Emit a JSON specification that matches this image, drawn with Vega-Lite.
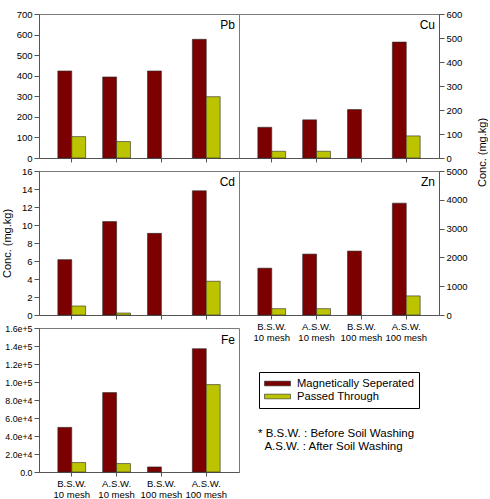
{
  "$schema": "https://vega.github.io/schema/vega-lite/v6.json",
  "padding": {"left": 0, "top": 8, "right": 0, "bottom": 0},
  "background": "white",
  "data": {"values": [
    {"metal": "Pb", "group": "B.S.W.|10 mesh", "series": "Magnetically Seperated", "value": 423},
    {"metal": "Pb", "group": "B.S.W.|10 mesh", "series": "Passed Through", "value": 104},
    {"metal": "Pb", "group": "A.S.W.|10 mesh", "series": "Magnetically Seperated", "value": 394},
    {"metal": "Pb", "group": "A.S.W.|10 mesh", "series": "Passed Through", "value": 80},
    {"metal": "Pb", "group": "B.S.W.|100 mesh", "series": "Magnetically Seperated", "value": 423},
    {"metal": "Pb", "group": "A.S.W.|100 mesh", "series": "Magnetically Seperated", "value": 577},
    {"metal": "Pb", "group": "A.S.W.|100 mesh", "series": "Passed Through", "value": 298},
    {"metal": "Cu", "group": "B.S.W.|10 mesh", "series": "Magnetically Seperated", "value": 128},
    {"metal": "Cu", "group": "B.S.W.|10 mesh", "series": "Passed Through", "value": 28},
    {"metal": "Cu", "group": "A.S.W.|10 mesh", "series": "Magnetically Seperated", "value": 159},
    {"metal": "Cu", "group": "A.S.W.|10 mesh", "series": "Passed Through", "value": 28},
    {"metal": "Cu", "group": "B.S.W.|100 mesh", "series": "Magnetically Seperated", "value": 202},
    {"metal": "Cu", "group": "A.S.W.|100 mesh", "series": "Magnetically Seperated", "value": 483},
    {"metal": "Cu", "group": "A.S.W.|100 mesh", "series": "Passed Through", "value": 92},
    {"metal": "Cd", "group": "B.S.W.|10 mesh", "series": "Magnetically Seperated", "value": 6.15},
    {"metal": "Cd", "group": "B.S.W.|10 mesh", "series": "Passed Through", "value": 1.0},
    {"metal": "Cd", "group": "A.S.W.|10 mesh", "series": "Magnetically Seperated", "value": 10.38},
    {"metal": "Cd", "group": "A.S.W.|10 mesh", "series": "Passed Through", "value": 0.22},
    {"metal": "Cd", "group": "B.S.W.|100 mesh", "series": "Magnetically Seperated", "value": 9.07},
    {"metal": "Cd", "group": "A.S.W.|100 mesh", "series": "Magnetically Seperated", "value": 13.8},
    {"metal": "Cd", "group": "A.S.W.|100 mesh", "series": "Passed Through", "value": 3.75},
    {"metal": "Zn", "group": "B.S.W.|10 mesh", "series": "Magnetically Seperated", "value": 1626},
    {"metal": "Zn", "group": "B.S.W.|10 mesh", "series": "Passed Through", "value": 220},
    {"metal": "Zn", "group": "A.S.W.|10 mesh", "series": "Magnetically Seperated", "value": 2115},
    {"metal": "Zn", "group": "A.S.W.|10 mesh", "series": "Passed Through", "value": 220},
    {"metal": "Zn", "group": "B.S.W.|100 mesh", "series": "Magnetically Seperated", "value": 2220},
    {"metal": "Zn", "group": "A.S.W.|100 mesh", "series": "Magnetically Seperated", "value": 3884},
    {"metal": "Zn", "group": "A.S.W.|100 mesh", "series": "Passed Through", "value": 663},
    {"metal": "Fe", "group": "B.S.W.|10 mesh", "series": "Magnetically Seperated", "value": 49600},
    {"metal": "Fe", "group": "B.S.W.|10 mesh", "series": "Passed Through", "value": 10500},
    {"metal": "Fe", "group": "A.S.W.|10 mesh", "series": "Magnetically Seperated", "value": 88200},
    {"metal": "Fe", "group": "A.S.W.|10 mesh", "series": "Passed Through", "value": 9400},
    {"metal": "Fe", "group": "B.S.W.|100 mesh", "series": "Magnetically Seperated", "value": 5600},
    {"metal": "Fe", "group": "A.S.W.|100 mesh", "series": "Magnetically Seperated", "value": 137000},
    {"metal": "Fe", "group": "A.S.W.|100 mesh", "series": "Passed Through", "value": 97100}
  ]},
  "title": {
    "text": ["* B.S.W. : Before Soil Washing", "\u200b\u00a0\u00a0A.S.W. : After Soil Washing"],
    "orient": "bottom", "anchor": "start", "frame": "group",
    "dx": 219, "dy": -71, "offset": 0,
    "fontSize": 11.5, "lineHeight": 13, "fontWeight": "normal", "font": "Liberation Sans", "color": "#000"
  },
  "columns": 2,
  "spacing": {"row": 13, "column": 0},
  "bounds": "flush",
  "align": "all",
  "resolve": {"legend": {"color": "independent"}, "scale": {"y": "independent"}},
  "concat": [
    {
      "width": 200, "height": 144,
      "title": {"text": "Pb", "anchor": "end", "frame": "group", "orient": "top", "offset": -16, "dx": -4, "dy": 16, "baseline": "alphabetic"},
      "transform": [{"filter": "datum.metal == 'Pb'"}],
      "mark": {"type": "bar"},
      "encoding": {
        "x": {"field": "group", "type": "nominal", "sort": ["B.S.W.|10 mesh", "A.S.W.|10 mesh", "B.S.W.|100 mesh", "A.S.W.|100 mesh"], "scale": {"paddingInner": 0.38, "paddingOuter": 0.42}, "axis": {"labels": false, "title": null}},
        "xOffset": {"field": "series", "type": "nominal", "sort": ["Magnetically Seperated", "Passed Through"], "scale": {"paddingInner": 0, "paddingOuter": 0}},
        "y": {"field": "value", "type": "quantitative", "scale": {"domain": [0, 700], "nice": false}, "axis": {"values": [0, 100, 200, 300, 400, 500, 600, 700], "format": "d", "title": null}},
        "color": {"field": "series", "type": "nominal", "scale": {"domain": ["Magnetically Seperated", "Passed Through"], "range": ["#7d0000", "#bcc400"]}, "legend": null}
      }
    },
    {
      "width": 200, "height": 144,
      "title": {"text": "Cu", "anchor": "end", "frame": "group", "orient": "top", "offset": -16, "dx": -4, "dy": 16, "baseline": "alphabetic"},
      "transform": [{"filter": "datum.metal == 'Cu'"}],
      "mark": {"type": "bar"},
      "encoding": {
        "x": {"field": "group", "type": "nominal", "sort": ["B.S.W.|10 mesh", "A.S.W.|10 mesh", "B.S.W.|100 mesh", "A.S.W.|100 mesh"], "scale": {"paddingInner": 0.38, "paddingOuter": 0.42}, "axis": {"labels": false, "title": null}},
        "xOffset": {"field": "series", "type": "nominal", "sort": ["Magnetically Seperated", "Passed Through"], "scale": {"paddingInner": 0, "paddingOuter": 0}},
        "y": {"field": "value", "type": "quantitative", "scale": {"domain": [0, 600], "nice": false}, "axis": {"orient": "right", "values": [0, 100, 200, 300, 400, 500, 600], "format": "d", "title": "Conc. (mg.kg)", "titleX": 43, "titleY": 138, "titleBaseline": "middle", "titleAngle": 270}},
        "color": {"field": "series", "type": "nominal", "scale": {"domain": ["Magnetically Seperated", "Passed Through"], "range": ["#7d0000", "#bcc400"]}, "legend": null}
      }
    },
    {
      "width": 200, "height": 144,
      "title": {"text": "Cd", "anchor": "end", "frame": "group", "orient": "top", "offset": -16, "dx": -4, "dy": 16, "baseline": "alphabetic"},
      "transform": [{"filter": "datum.metal == 'Cd'"}],
      "mark": {"type": "bar"},
      "encoding": {
        "x": {"field": "group", "type": "nominal", "sort": ["B.S.W.|10 mesh", "A.S.W.|10 mesh", "B.S.W.|100 mesh", "A.S.W.|100 mesh"], "scale": {"paddingInner": 0.38, "paddingOuter": 0.42}, "axis": {"labels": false, "title": null}},
        "xOffset": {"field": "series", "type": "nominal", "sort": ["Magnetically Seperated", "Passed Through"], "scale": {"paddingInner": 0, "paddingOuter": 0}},
        "y": {"field": "value", "type": "quantitative", "scale": {"domain": [0, 16], "nice": false}, "axis": {"values": [0, 2, 4, 6, 8, 10, 12, 14, 16], "format": "d", "title": "Conc. (mg.kg)", "titleX": -32, "titleBaseline": "middle", "titleAngle": 270}},
        "color": {"field": "series", "type": "nominal", "scale": {"domain": ["Magnetically Seperated", "Passed Through"], "range": ["#7d0000", "#bcc400"]}, "legend": null}
      }
    },
    {
      "width": 200, "height": 144,
      "title": {"text": "Zn", "anchor": "end", "frame": "group", "orient": "top", "offset": -16, "dx": -4, "dy": 16, "baseline": "alphabetic"},
      "transform": [{"filter": "datum.metal == 'Zn'"}],
      "mark": {"type": "bar"},
      "encoding": {
        "x": {"field": "group", "type": "nominal", "sort": ["B.S.W.|10 mesh", "A.S.W.|10 mesh", "B.S.W.|100 mesh", "A.S.W.|100 mesh"], "scale": {"paddingInner": 0.38, "paddingOuter": 0.42}, "axis": {"labelExpr": "split(datum.label, '|')", "title": null}},
        "xOffset": {"field": "series", "type": "nominal", "sort": ["Magnetically Seperated", "Passed Through"], "scale": {"paddingInner": 0, "paddingOuter": 0}},
        "y": {"field": "value", "type": "quantitative", "scale": {"domain": [0, 5000], "nice": false}, "axis": {"orient": "right", "values": [0, 1000, 2000, 3000, 4000, 5000], "format": "d", "title": null}},
        "color": {"field": "series", "type": "nominal", "scale": {"domain": ["Magnetically Seperated", "Passed Through"], "range": ["#7d0000", "#bcc400"]}, "legend": null}
      }
    },
    {
      "width": 200, "height": 144,
      "title": {"text": "Fe", "anchor": "end", "frame": "group", "orient": "top", "offset": -16, "dx": -4, "dy": 16, "baseline": "alphabetic"},
      "transform": [{"filter": "datum.metal == 'Fe'"}],
      "mark": {"type": "bar"},
      "encoding": {
        "x": {"field": "group", "type": "nominal", "sort": ["B.S.W.|10 mesh", "A.S.W.|10 mesh", "B.S.W.|100 mesh", "A.S.W.|100 mesh"], "scale": {"paddingInner": 0.38, "paddingOuter": 0.42}, "axis": {"labelExpr": "split(datum.label, '|')", "title": null}},
        "xOffset": {"field": "series", "type": "nominal", "sort": ["Magnetically Seperated", "Passed Through"], "scale": {"paddingInner": 0, "paddingOuter": 0}},
        "y": {"field": "value", "type": "quantitative", "scale": {"domain": [0, 160000], "nice": false}, "axis": {"values": [0, 20000, 40000, 60000, 80000, 100000, 120000, 140000, 160000], "labelExpr": "datum.value == 0 ? '0.0' : format(datum.value, '.1e')", "labelFontSize": 8.8, "title": null}},
        "color": {"field": "series", "type": "nominal", "scale": {"domain": ["Magnetically Seperated", "Passed Through"], "range": ["#7d0000", "#bcc400"]},
          "legend": {"orient": "none", "legendX": 220, "legendY": 44, "title": null, "strokeColor": "#000", "padding": 5, "symbolType": "M-1,-0.18H1V0.18H-1Z", "symbolSize": 676, "symbolStrokeColor": "#2a2a2a", "symbolStrokeWidth": 0.6, "labelFontSize": 11.2, "labelOffset": 6, "clipHeight": 13, "rowPadding": 0, "labelFont": "Liberation Sans", "labelColor": "#000"}}
      }
    }
  ],
  "config": {
    "font": "Liberation Sans",
    "view": {"stroke": "#7a7a7a", "strokeWidth": 1},
    "axis": {"grid": false, "domainColor": "#555", "tickColor": "#555", "labelColor": "#000", "labelFontSize": 9.5, "titleFontSize": 11, "titleFontWeight": "normal", "titleColor": "#000", "labelFont": "Liberation Sans", "titleFont": "Liberation Sans"},
    "axisX": {"tickSize": 4, "labelAngle": 0, "labelPadding": 2, "labelLineHeight": 11},
    "axisY": {"tickSize": 5, "labelPadding": 2},
    "bar": {"stroke": "#2a2a2a", "strokeWidth": 0.6},
    "title": {"font": "Liberation Sans", "fontWeight": "normal", "fontSize": 12, "color": "#000"}
  }
}
